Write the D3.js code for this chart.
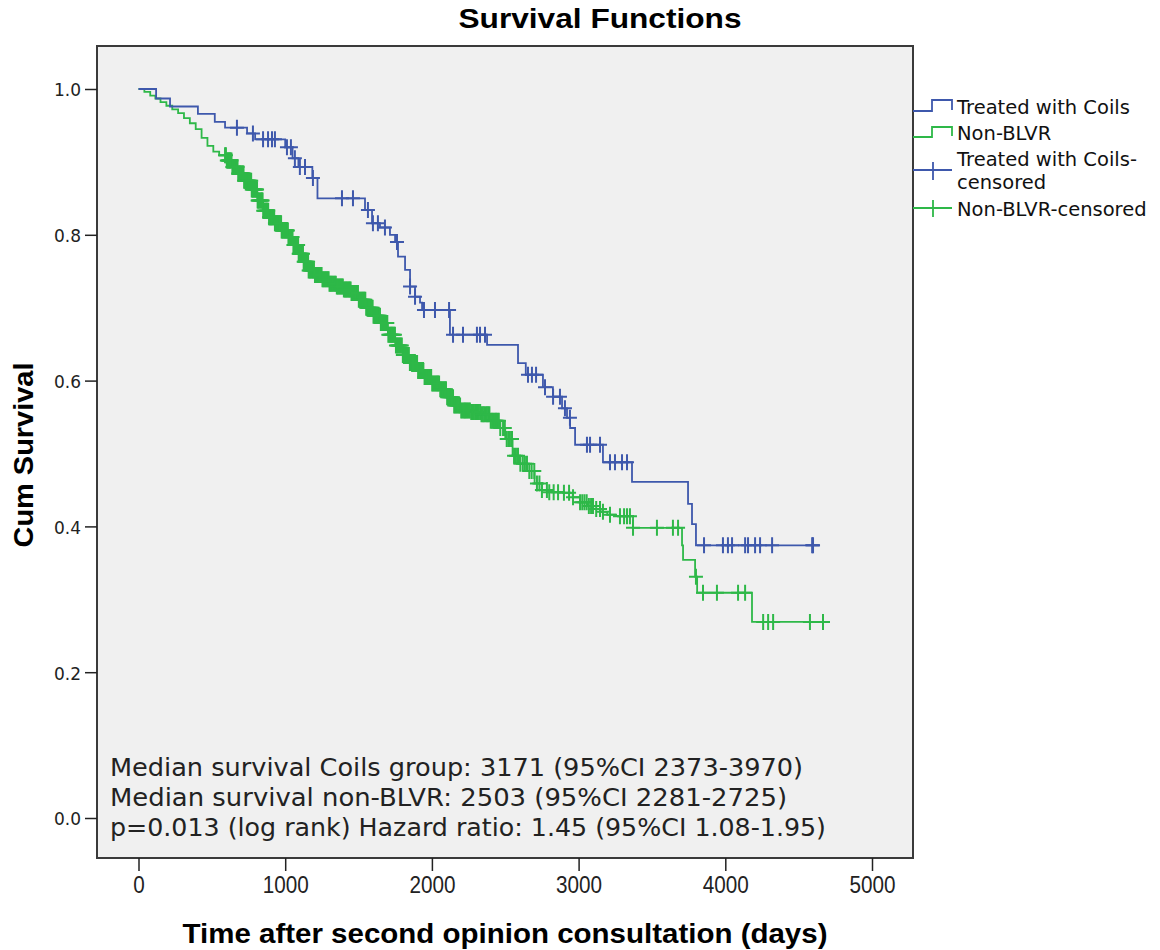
<!DOCTYPE html>
<html>
<head>
<meta charset="utf-8">
<script src="https://cdn.jsdelivr.net/npm/d3@7"></script>
<style>
  body { margin: 0; background: #fff; }
  svg { display: block; }
</style>
</head>
<body>
<svg id="chart" width="1160" height="950"></svg>
<script>
// values: [days, cum survival] at each step
const coilsSteps = [
  [0, 1.0], [120, 0.987], [215, 0.976], [405, 0.966], [520, 0.955], [590, 0.947],
  [740, 0.939], [795, 0.931], [1000, 0.920], [1050, 0.905], [1090, 0.893], [1185, 0.878],
  [1220, 0.850], [1544, 0.834], [1592, 0.816], [1646, 0.810], [1714, 0.800], [1749, 0.790],
  [1769, 0.770], [1817, 0.752], [1851, 0.729], [1885, 0.715], [1919, 0.707], [1933, 0.697],
  [2123, 0.663], [2376, 0.649], [2587, 0.624], [2640, 0.608], [2757, 0.591], [2825, 0.578],
  [2887, 0.562], [2921, 0.549], [2942, 0.535], [2976, 0.512], [3166, 0.488], [3364, 0.461],
  [3746, 0.431], [3773, 0.403], [3800, 0.374]
];
const coilsEnd = 4645;
const coilsCensored = [
  671, 780, 849, 883, 910, 930, 1012, 1039, 1066, 1100, 1135, 1189, 1387, 1462, 1564, 1598,
  1632, 1680, 1762, 1851, 1885, 1946, 2021, 2117, 2144, 2212, 2307, 2328, 2362, 2655, 2682,
  2710, 2771, 2826, 2873, 2907, 2941, 3057, 3078, 3146, 3214, 3248, 3296, 3330, 3855, 3984,
  4018, 4046, 4135, 4155, 4203, 4237, 4319, 4592, 4598
];

const nonBlvrSteps = [
  [0, 1.0], [40, 0.996], [80, 0.991], [115, 0.987], [150, 0.982], [190, 0.977], [230, 0.972],
  [270, 0.967], [310, 0.960], [350, 0.953], [390, 0.945], [430, 0.933], [470, 0.922],
  [510, 0.914], [550, 0.909], [600, 0.902], [640, 0.893], [680, 0.884], [720, 0.874],
  [770, 0.862], [810, 0.847], [850, 0.833], [890, 0.824], [930, 0.816], [975, 0.806],
  [1020, 0.797], [1055, 0.786], [1090, 0.774], [1125, 0.763], [1160, 0.751], [1200, 0.745],
  [1250, 0.739], [1300, 0.733], [1350, 0.729], [1400, 0.725], [1450, 0.720], [1500, 0.711],
  [1550, 0.700], [1600, 0.689], [1650, 0.679], [1700, 0.663], [1750, 0.648], [1800, 0.635],
  [1850, 0.624], [1900, 0.613], [1950, 0.605], [2000, 0.596], [2050, 0.588], [2100, 0.577],
  [2150, 0.566], [2200, 0.559], [2260, 0.557], [2330, 0.554], [2400, 0.545], [2460, 0.535],
  [2500, 0.520], [2550, 0.497], [2600, 0.486], [2650, 0.476], [2700, 0.459], [2750, 0.450],
  [2800, 0.447], [2900, 0.446], [2960, 0.440], [3010, 0.433], [3060, 0.428], [3100, 0.424],
  [3150, 0.420], [3195, 0.416], [3250, 0.414], [3371, 0.398], [3705, 0.374], [3712, 0.354],
  [3794, 0.331], [3808, 0.309], [4182, 0.269]
];
const nonBlvrEnd = 4700;
const nonBlvrCensored = [
  590, 596, 602, 607, 611, 616, 620, 624, 628, 634, 640, 644, 648, 652, 655, 661, 667, 671,
  675, 680, 684, 688, 692, 696, 700, 706, 712, 716, 720, 726, 731, 736, 740, 744, 748, 752,
  757, 763, 768, 772, 776, 781, 785, 790, 795, 800, 804, 808, 812, 816, 820, 827, 833, 838,
  842, 846, 850, 856, 861, 866, 870, 874, 878, 884, 890, 894, 898, 902, 906, 910, 915, 920,
  925, 930, 936, 940, 944, 948, 952, 958, 963, 968, 972, 976, 980, 986, 991, 996, 1000, 1005,
  1010, 1014, 1018, 1022, 1027, 1031, 1036, 1040, 1045, 1050, 1056, 1060, 1064, 1068, 1072,
  1078, 1083, 1088, 1092, 1096, 1100, 1105, 1110, 1116, 1121, 1126, 1130, 1135, 1140, 1146,
  1152, 1156, 1160, 1166, 1172, 1178, 1185, 1190, 1196, 1203, 1210, 1216, 1222, 1229, 1236,
  1242, 1248, 1254, 1260, 1268, 1275, 1282, 1290, 1296, 1302, 1308, 1315, 1322, 1330, 1338,
  1345, 1352, 1358, 1365, 1372, 1379, 1386, 1393, 1400, 1407, 1414, 1420, 1427, 1434, 1440,
  1446, 1452, 1459, 1466, 1472, 1478, 1484, 1490, 1496, 1502, 1508, 1515, 1522, 1528, 1534,
  1540, 1546, 1552, 1558, 1565, 1571, 1577, 1584, 1590, 1596, 1602, 1608, 1615, 1622, 1628,
  1634, 1640, 1646, 1652, 1658, 1665, 1672, 1678, 1684, 1690, 1696, 1703, 1710, 1716, 1722,
  1728, 1734, 1741, 1748, 1755, 1762, 1768, 1775, 1782, 1788, 1795, 1802, 1808, 1815, 1822,
  1829, 1836, 1843, 1850, 1857, 1864, 1871, 1878, 1885, 1892, 1899, 1906, 1913, 1921, 1928,
  1935, 1942, 1950, 1958, 1966, 1973, 1980, 1988, 1995, 2002, 2010, 2018, 2026, 2034, 2041,
  2049, 2057, 2064, 2072, 2080, 2088, 2096, 2104, 2112, 2120, 2128, 2136, 2144, 2152, 2160,
  2168, 2176, 2185, 2192, 2200, 2209, 2218, 2226, 2234, 2242, 2250, 2259, 2268, 2277, 2286,
  2295, 2304, 2312, 2320, 2329, 2338, 2347, 2356, 2366, 2375, 2384, 2392, 2401, 2410, 2419,
  2428, 2437, 2446, 2456, 2466, 2485, 2497, 2510, 2521, 2532, 2546, 2560, 2573, 2587, 2603,
  2620, 2634, 2648, 2664, 2680, 2698, 2716, 2733, 2750, 2784, 2800, 2830, 2860, 2900, 2935,
  2962, 3010, 3025, 3040, 3055, 3070, 3085, 3098, 3120, 3146, 3166, 3214, 3282, 3310, 3330,
  3350, 3371, 3534, 3643, 3678, 3800, 3848, 3943, 4087, 4135, 4258, 4292, 4326, 4577, 4666
];

const xTicks = [0, 1000, 2000, 3000, 4000, 5000];
const yTicks = [0, 0.2, 0.4, 0.6, 0.8, 1.0];
const legendLabels = [["Treated with Coils"], ["Non-BLVR"], ["Treated with Coils-", "censored"], ["Non-BLVR-censored"]];
const notes = [
  "Median survival Coils group: 3171 (95%CI 2373-3970)",
  "Median survival non-BLVR: 2503 (95%CI 2281-2725)",
  "p=0.013 (log rank) Hazard ratio: 1.45 (95%CI 1.08-1.95)"
];
const noteWidths = [693, 677, 716];

const blue = '#3e58ac';
const green = '#2eb848';

const svg = d3.select('#chart');
const frame = { left: 97, top: 46, right: 913, bottom: 858 };

const x = d3.scaleLinear().domain([0, 5000]).range([138.5, 872]);
const y = d3.scaleLinear().domain([0, 1]).range([818, 89]);

// plot background
svg.append('rect')
  .attr('x', frame.left).attr('y', frame.top)
  .attr('width', frame.right - frame.left).attr('height', frame.bottom - frame.top)
  .attr('fill', '#f0f0f0');

// step value at time t
function survAt(steps, t) {
  const i = d3.bisector(d => d[0]).right(steps, t) - 1;
  return steps[Math.max(i, 0)][1];
}

const line = d3.line()
  .x(d => x(d[0]))
  .y(d => y(d[1]))
  .curve(d3.curveStepAfter);

const groups = [
  { steps: coilsSteps, end: coilsEnd, cens: coilsCensored, color: blue },
  { steps: nonBlvrSteps, end: nonBlvrEnd, cens: nonBlvrCensored, color: green }
];

// green first, blue on top
groups.slice().reverse().forEach(g => {
  const pts = g.steps.concat([[g.end, g.steps[g.steps.length - 1][1]]]);
  svg.append('path')
    .attr('d', line(pts))
    .attr('fill', 'none')
    .attr('stroke', g.color)
    .attr('stroke-width', 1.8);

  svg.append('g')
    .selectAll('path')
    .data(g.cens)
    .join('path')
    .attr('d', t => {
      const cx = x(t), cy = y(survAt(g.steps, t));
      return `M${cx - 7},${cy}h14M${cx},${cy - 8}v16`;
    })
    .attr('fill', 'none')
    .attr('stroke', g.color)
    .attr('stroke-width', 2);
});

// frame
svg.append('rect')
  .attr('x', frame.left).attr('y', frame.top)
  .attr('width', frame.right - frame.left).attr('height', frame.bottom - frame.top)
  .attr('fill', 'none')
  .attr('stroke', '#3a3a3a')
  .attr('stroke-width', 2);

// axes
const yAxis = svg.append('g')
  .attr('transform', `translate(${frame.left},0)`)
  .call(d3.axisLeft(y).tickValues(yTicks).tickFormat(d3.format('.1f')).tickSize(12).tickPadding(4).tickSizeOuter(0));
yAxis.select('.domain').remove();
yAxis.selectAll('line').attr('stroke', '#222').attr('stroke-width', 1.5);
yAxis.selectAll('text')
  .attr('font-family', 'DejaVu Sans, sans-serif')
  .attr('font-size', 17)
  .attr('fill', '#222')
  .attr('dy', '0.4em');

const xAxis = svg.append('g')
  .attr('transform', `translate(0,${frame.bottom})`)
  .call(d3.axisBottom(x).tickValues(xTicks).tickFormat(d3.format('d')).tickSize(13).tickPadding(6).tickSizeOuter(0));
xAxis.select('.domain').remove();
xAxis.selectAll('line').attr('stroke', '#222').attr('stroke-width', 1.5);
xAxis.selectAll('text')
  .attr('font-family', 'Liberation Sans, Arial, sans-serif')
  .attr('font-size', 23)
  .attr('fill', '#222')
  .attr('textLength', d => String(d).length * 11.5)
  .attr('lengthAdjust', 'spacingAndGlyphs');

// titles
svg.append('text')
  .attr('x', 600).attr('y', 28)
  .attr('text-anchor', 'middle')
  .attr('font-family', 'Liberation Sans, Arial, sans-serif')
  .attr('font-weight', 'bold')
  .attr('font-size', 28)
  .attr('textLength', 283).attr('lengthAdjust', 'spacingAndGlyphs')
  .text('Survival Functions');

svg.append('text')
  .attr('x', 505).attr('y', 943)
  .attr('text-anchor', 'middle')
  .attr('font-family', 'Liberation Sans, Arial, sans-serif')
  .attr('font-weight', 'bold')
  .attr('font-size', 27)
  .attr('textLength', 645).attr('lengthAdjust', 'spacingAndGlyphs')
  .text('Time after second opinion consultation (days)');

svg.append('text')
  .attr('transform', 'translate(33,455) rotate(-90)')
  .attr('text-anchor', 'middle')
  .attr('font-family', 'Liberation Sans, Arial, sans-serif')
  .attr('font-weight', 'bold')
  .attr('font-size', 27)
  .attr('textLength', 185).attr('lengthAdjust', 'spacingAndGlyphs')
  .text('Cum Survival');

// notes inside the plot
svg.append('g')
  .selectAll('text')
  .data(notes)
  .join('text')
  .attr('x', 110)
  .attr('y', (d, i) => 776 + i * 30)
  .attr('font-family', 'DejaVu Sans, sans-serif')
  .attr('font-size', 24)
  .attr('fill', '#222')
  .attr('textLength', (d, i) => noteWidths[i]).attr('lengthAdjust', 'spacingAndGlyphs')
  .text(d => d);

// legend, outside right of the frame
const lg = svg.append('g').attr('fill', 'none').attr('stroke-width', 1.8);
lg.append('path').attr('stroke', blue).attr('d', 'M913,111H932V100H952V110');
lg.append('path').attr('stroke', green).attr('d', 'M913,137H932V127H952V136');
lg.append('path').attr('stroke', blue).attr('d', 'M913,170H952M933,162V180');
lg.append('path').attr('stroke', green).attr('d', 'M913,208H952M933,200V217');

const legendY = [[114], [140], [166, 189], [216]];
const lt = svg.append('g')
  .attr('font-family', 'DejaVu Sans, sans-serif')
  .attr('font-size', 19.5)
  .attr('fill', '#111');
legendLabels.forEach((lines, i) => {
  lines.forEach((s, j) => {
    lt.append('text').attr('x', 957).attr('y', legendY[i][j]).text(s);
  });
});
</script>
</body>
</html>
